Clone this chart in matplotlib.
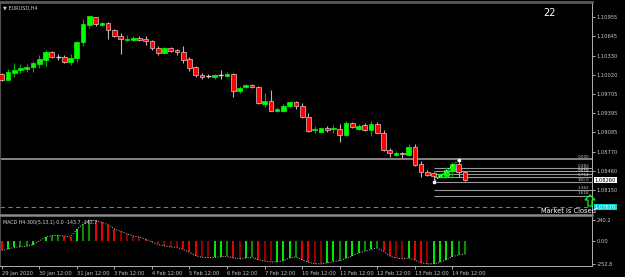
import numpy as np
import matplotlib
matplotlib.use("Agg")
import matplotlib.pyplot as plt
from matplotlib.patches import Polygon

# EURUSD H4 candles, 29 Jan 2020 12:00 .. 14 Feb 2020 20:00
opens = [1.10030, 1.09933, 1.10046, 1.10095, 1.10111, 1.10144, 1.10192, 1.10257, 1.10387, 1.10306,
         1.10306, 1.10225, 1.10290, 1.10549, 1.10825, 1.10955, 1.10825, 1.10858, 1.10744, 1.10647,
         1.10590, 1.10582, 1.10614, 1.10598, 1.10566, 1.10452, 1.10371, 1.10452, 1.10420, 1.10387,
         1.10273, 1.10144, 1.10014, 1.09998, 1.09981, 1.10014, 1.09998, 1.10030, 1.09754, 1.09819,
         1.09851, 1.09819, 1.09543, 1.09592, 1.09430, 1.09430, 1.09511, 1.09576, 1.09511, 1.09332,
         1.09121, 1.09089, 1.09154, 1.09137, 1.09137, 1.09040, 1.09235, 1.09137, 1.09202, 1.09121,
         1.09219, 1.09072, 1.08797, 1.08715, 1.08748, 1.08715, 1.08845, 1.08569, 1.08439, 1.08423,
         1.08358, 1.08375, 1.08456, 1.08569, 1.08439]
highs = [1.10046, 1.10111, 1.10209, 1.10192, 1.10192, 1.10241, 1.10338, 1.10420, 1.10403, 1.10355,
         1.10338, 1.10355, 1.10566, 1.10923, 1.10971, 1.10963, 1.10874, 1.10874, 1.10760, 1.10695,
         1.10663, 1.10647, 1.10647, 1.10647, 1.10582, 1.10484, 1.10468, 1.10468, 1.10436, 1.10484,
         1.10306, 1.10160, 1.10046, 1.10030, 1.10030, 1.10095, 1.10062, 1.10046, 1.09835, 1.09868,
         1.09868, 1.09835, 1.09722, 1.09770, 1.09494, 1.09543, 1.09592, 1.09592, 1.09559, 1.09397,
         1.09186, 1.09162, 1.09186, 1.09202, 1.09219, 1.09267, 1.09251, 1.09219, 1.09235, 1.09267,
         1.09251, 1.09121, 1.08829, 1.08780, 1.08764, 1.08894, 1.08894, 1.08618, 1.08472, 1.08439,
         1.08423, 1.08521, 1.08602, 1.08634, 1.08456]
lows = [1.09916, 1.09925, 1.09981, 1.10046, 1.10062, 1.10062, 1.10127, 1.10160, 1.10290, 1.10257,
        1.10209, 1.10176, 1.10225, 1.10484, 1.10777, 1.10809, 1.10809, 1.10598, 1.10631, 1.10355,
        1.10566, 1.10566, 1.10566, 1.10501, 1.10420, 1.10338, 1.10363, 1.10387, 1.10338, 1.10209,
        1.10079, 1.09981, 1.09949, 1.09965, 1.09949, 1.09949, 1.09981, 1.09657, 1.09722, 1.09803,
        1.09803, 1.09543, 1.09494, 1.09430, 1.09413, 1.09413, 1.09494, 1.09462, 1.09316, 1.09089,
        1.09072, 1.09081, 1.09089, 1.09072, 1.08926, 1.09024, 1.09154, 1.09121, 1.09105, 1.09024,
        1.09072, 1.08780, 1.08683, 1.08699, 1.08667, 1.08699, 1.08537, 1.08358, 1.08375, 1.08277,
        1.08350, 1.08342, 1.08342, 1.08358, 1.08293]
closes = [1.09933, 1.10062, 1.10095, 1.10127, 1.10144, 1.10209, 1.10273, 1.10387, 1.10306, 1.10300,
          1.10225, 1.10290, 1.10549, 1.10841, 1.10965, 1.10841, 1.10858, 1.10744, 1.10647, 1.10598,
          1.10606, 1.10614, 1.10582, 1.10566, 1.10452, 1.10371, 1.10452, 1.10403, 1.10387, 1.10257,
          1.10127, 1.10014, 1.09981, 1.09994, 1.10014, 1.10010, 1.10030, 1.09754, 1.09803, 1.09851,
          1.09819, 1.09559, 1.09592, 1.09438, 1.09462, 1.09511, 1.09576, 1.09511, 1.09332, 1.09105,
          1.09137, 1.09154, 1.09121, 1.09154, 1.09040, 1.09235, 1.09170, 1.09186, 1.09121, 1.09219,
          1.09080, 1.08797, 1.08748, 1.08748, 1.08732, 1.08845, 1.08553, 1.08439, 1.08391, 1.08375,
          1.08407, 1.08472, 1.08569, 1.08439, 1.08310]

# MACD H4-300(5,13,1) values per bar
macd = [-101, -85, -67, -60, -56, -35, 5, 45, 65, 67,
        60, 50, 134, 195, 240.2, 232, 215, 185, 140, 112,
        85, 62, 48, 25, -5, -34, -50, -62, -67, -90,
        -123, -160, -179, -183, -180, -172, -168, -185, -195, -185,
        -179, -205, -220, -230, -228, -215, -185, -175, -205, -235,
        -248, -252.8, -240, -225, -215, -190, -160, -130, -110, -90,
        -75, -110, -165, -185, -195, -185, -210, -240, -252, -250,
        -235, -205, -170, -150, -143.7]

price_ticks = [1.10955, 1.10645, 1.10330, 1.10020, 1.09705, 1.09395, 1.09085, 1.08770, 1.08460, 1.08150]
macd_ticks = [240.2, 0.0, -252.8]
macd_tick_labels = ["240.2", "0.00", "-252.8"]

time_bars = [0, 6, 12, 18, 24, 30, 36, 42, 48, 54, 60, 66, 72]
time_labels = ["29 Jan 2020", "30 Jan 12:00", "31 Jan 12:00", "3 Feb 12:00", "4 Feb 12:00",
               "5 Feb 12:00", "6 Feb 12:00", "7 Feb 12:00", "10 Feb 12:00", "11 Feb 12:00",
               "12 Feb 12:00", "13 Feb 12:00", "14 Feb 12:00"]

# fibonacci drawn from the 14 Feb low to the high
fib_low = (69, 1.08277)
fib_high = (73, 1.08634)
fib_ratios = [0.382, 0.5, 0.618, 0.764, 1.0, 1.382, 1.618]
fib_labels = ["0.382", "0.500", "0.618", "0.764", "100.0", "1.382", "1.618"]
hline_price = 1.08650
bid = 1.08260
cyan_price = 1.07870

W, H = 625, 277
fig = plt.figure(figsize=(W / 100, H / 100), dpi=100, facecolor="black")

def box(x0, y0, x1, y1):
    return [x0 / W, 1 - y1 / H, (x1 - x0) / W, (y1 - y0) / H]

ax = fig.add_axes(box(0, 2, 592, 215), facecolor="black")
ax2 = fig.add_axes(box(0, 217, 592, 266), facecolor="black")

x = np.arange(len(opens))
o, h, l, c = map(np.array, (opens, highs, lows, closes))

up = c > o
doji = np.abs(c - o) < 0.00008
wick_col = np.where(up, "#00b000", "#b8b8b8")
ax.vlines(x, l, h, colors=wick_col, linewidth=0.8, zorder=2)
body_bot = np.minimum(o, c)
body_h = np.maximum(np.abs(c - o), 0.00010)
face = np.where(up, "#00ff00", "#ff0000")
edge = np.where(up, "#00ff00", "#e0c8c8")
for i in x:
    if doji[i]:
        col = "#00ff00" if up[i] else "#d8d8d8"
        ax.hlines(c[i], i - 0.4, i + 0.4, colors=col, linewidth=1.0, zorder=3)
    else:
        ax.bar(i, body_h[i], 0.75, bottom=body_bot[i], color=face[i],
               edgecolor=edge[i], linewidth=0.5, zorder=3)

# horizontal lines and fibonacci levels
ax.axhline(hline_price, color="#a8a8a8", linewidth=1.1, zorder=1)
ax.axhline(cyan_price, color="#10a8a8", linewidth=0.8, linestyle=(0, (4, 3)), zorder=1)
rng = fib_high[1] - fib_low[1]
for r, lab in zip(fib_ratios, fib_labels):
    lev = fib_high[1] - r * rng
    ax.hlines(lev, fib_low[0], 95, colors="#9a9a9a", linewidth=0.8, zorder=1)
    ax.text(93.9, lev + 0.00003, lab, fontsize=3.0, color="#c8c8c8", ha="right", va="bottom")
ax.text(93.9, hline_price + 0.00003, "0.000", fontsize=3.0, color="#c8c8c8", ha="right", va="bottom")
ax.plot([fib_low[0], fib_high[0]], [fib_low[1], fib_high[1]], color="white",
        linewidth=0.7, linestyle=(0, (1, 1.5)), zorder=4)
ax.plot([fib_low[0], fib_high[0]], [fib_low[1], fib_high[1]], "s", color="white",
        markersize=1.8, linestyle="none", zorder=4)

x_left = -1.7 / 6.26
x_right = (592 - 1.7) / 6.26
ax.set_xlim(x_left, x_right)
ax.set_ylim(1.07742, 1.11199)
ax.set_xticks([])
ax.yaxis.tick_right()
ax.set_yticks(price_ticks)
ax.set_yticklabels([f"{p:.5f}" for p in price_ticks])
ax.tick_params(axis="y", colors="#c8c8c8", labelsize=3.7, length=2, width=0.6, pad=1.5)

for s in ax.spines.values():
    s.set_color("#8a8a8a")
ax.spines["top"].set_linewidth(2)
ax.spines["top"].set_color("#585858")
ax.spines["bottom"].set_linewidth(1.8)
ax.spines["left"].set_color("#505050")
ax.spines["right"].set_color("#b0b0b0")
ax.spines["right"].set_linewidth(0.7)

# price labels on the right
ax.text(1.004, c[-1], f"{bid:.5f}", transform=ax.get_yaxis_transform(), fontsize=3.7,
        color="black", ha="left", va="center",
        bbox=dict(facecolor="white", edgecolor="none", pad=0.6))
ax.text(1.004, cyan_price, f"{cyan_price:.5f}", transform=ax.get_yaxis_transform(),
        fontsize=3.7, color="white", ha="left", va="center",
        bbox=dict(facecolor="#00d8d8", edgecolor="none", pad=0.6))

# MACD window
m = np.array(macd)
d = np.diff(m, prepend=m[0] + 1)
dd = np.diff(d, prepend=d[0])
cols = []
for i in range(len(m)):
    if d[i] >= 0:
        cols.append("#00ff00" if dd[i] >= 0 else "#00a000")
    else:
        cols.append("#ff0000" if dd[i] <= 0 else "#a00000")
ax2.vlines(x, 0, m, colors=cols, linewidth=1.3)
ax2.plot(x, m, color="#c0c0c0", linewidth=0.7, linestyle=(0, (1, 1.6)))
ax2.set_xlim(x_left, x_right)
ax2.set_ylim(-275.5, 273.3)
ax2.yaxis.tick_right()
ax2.set_yticks(macd_ticks)
ax2.set_yticklabels(macd_tick_labels)
ax2.tick_params(axis="y", colors="#c8c8c8", labelsize=3.7, length=2, width=0.6, pad=1.5)
ax2.set_xticks(time_bars)
ax2.set_xticklabels(time_labels, ha="left")
ax2.tick_params(axis="x", colors="#c8c8c8", labelsize=3.7, length=2.5, width=0.6, pad=1)
for s in ax2.spines.values():
    s.set_color("#b0b0b0")
    s.set_linewidth(0.7)
ax2.spines["top"].set_visible(False)
ax2.spines["left"].set_color("#505050")
ax2.text(0.005, 0.94, "MACD H4-300(5,13,1) 0.0 -143.7 -143.7", transform=ax2.transAxes,
         fontsize=3.4, color="#d8d8d8", va="top", ha="left")

# overlay texts
fig.text(3 / W, 1 - 8 / H, "\u25bc EURUSD,H4", fontsize=3.6, color="#d0d0d0", va="center")
fig.text(543 / W, 1 - 13 / H, "22", fontsize=7, color="white", va="center")
fig.text(541 / W, 1 - 211 / H, "Market Is Closed", fontsize=4.8, color="white", va="center")

# hollow green "up" arrow (market closed marker)
arrow_px = [(590, 195), (595, 200), (592, 200), (592, 206), (588, 206), (588, 200), (585, 200)]
arrow = Polygon([(px / W, 1 - py / H) for px, py in arrow_px], closed=True,
                transform=fig.transFigure, facecolor="none", edgecolor="#00ff00",
                linewidth=0.9, zorder=10)
fig.patches.append(arrow)

fig.savefig("out.png", dpi=100, facecolor="black")
